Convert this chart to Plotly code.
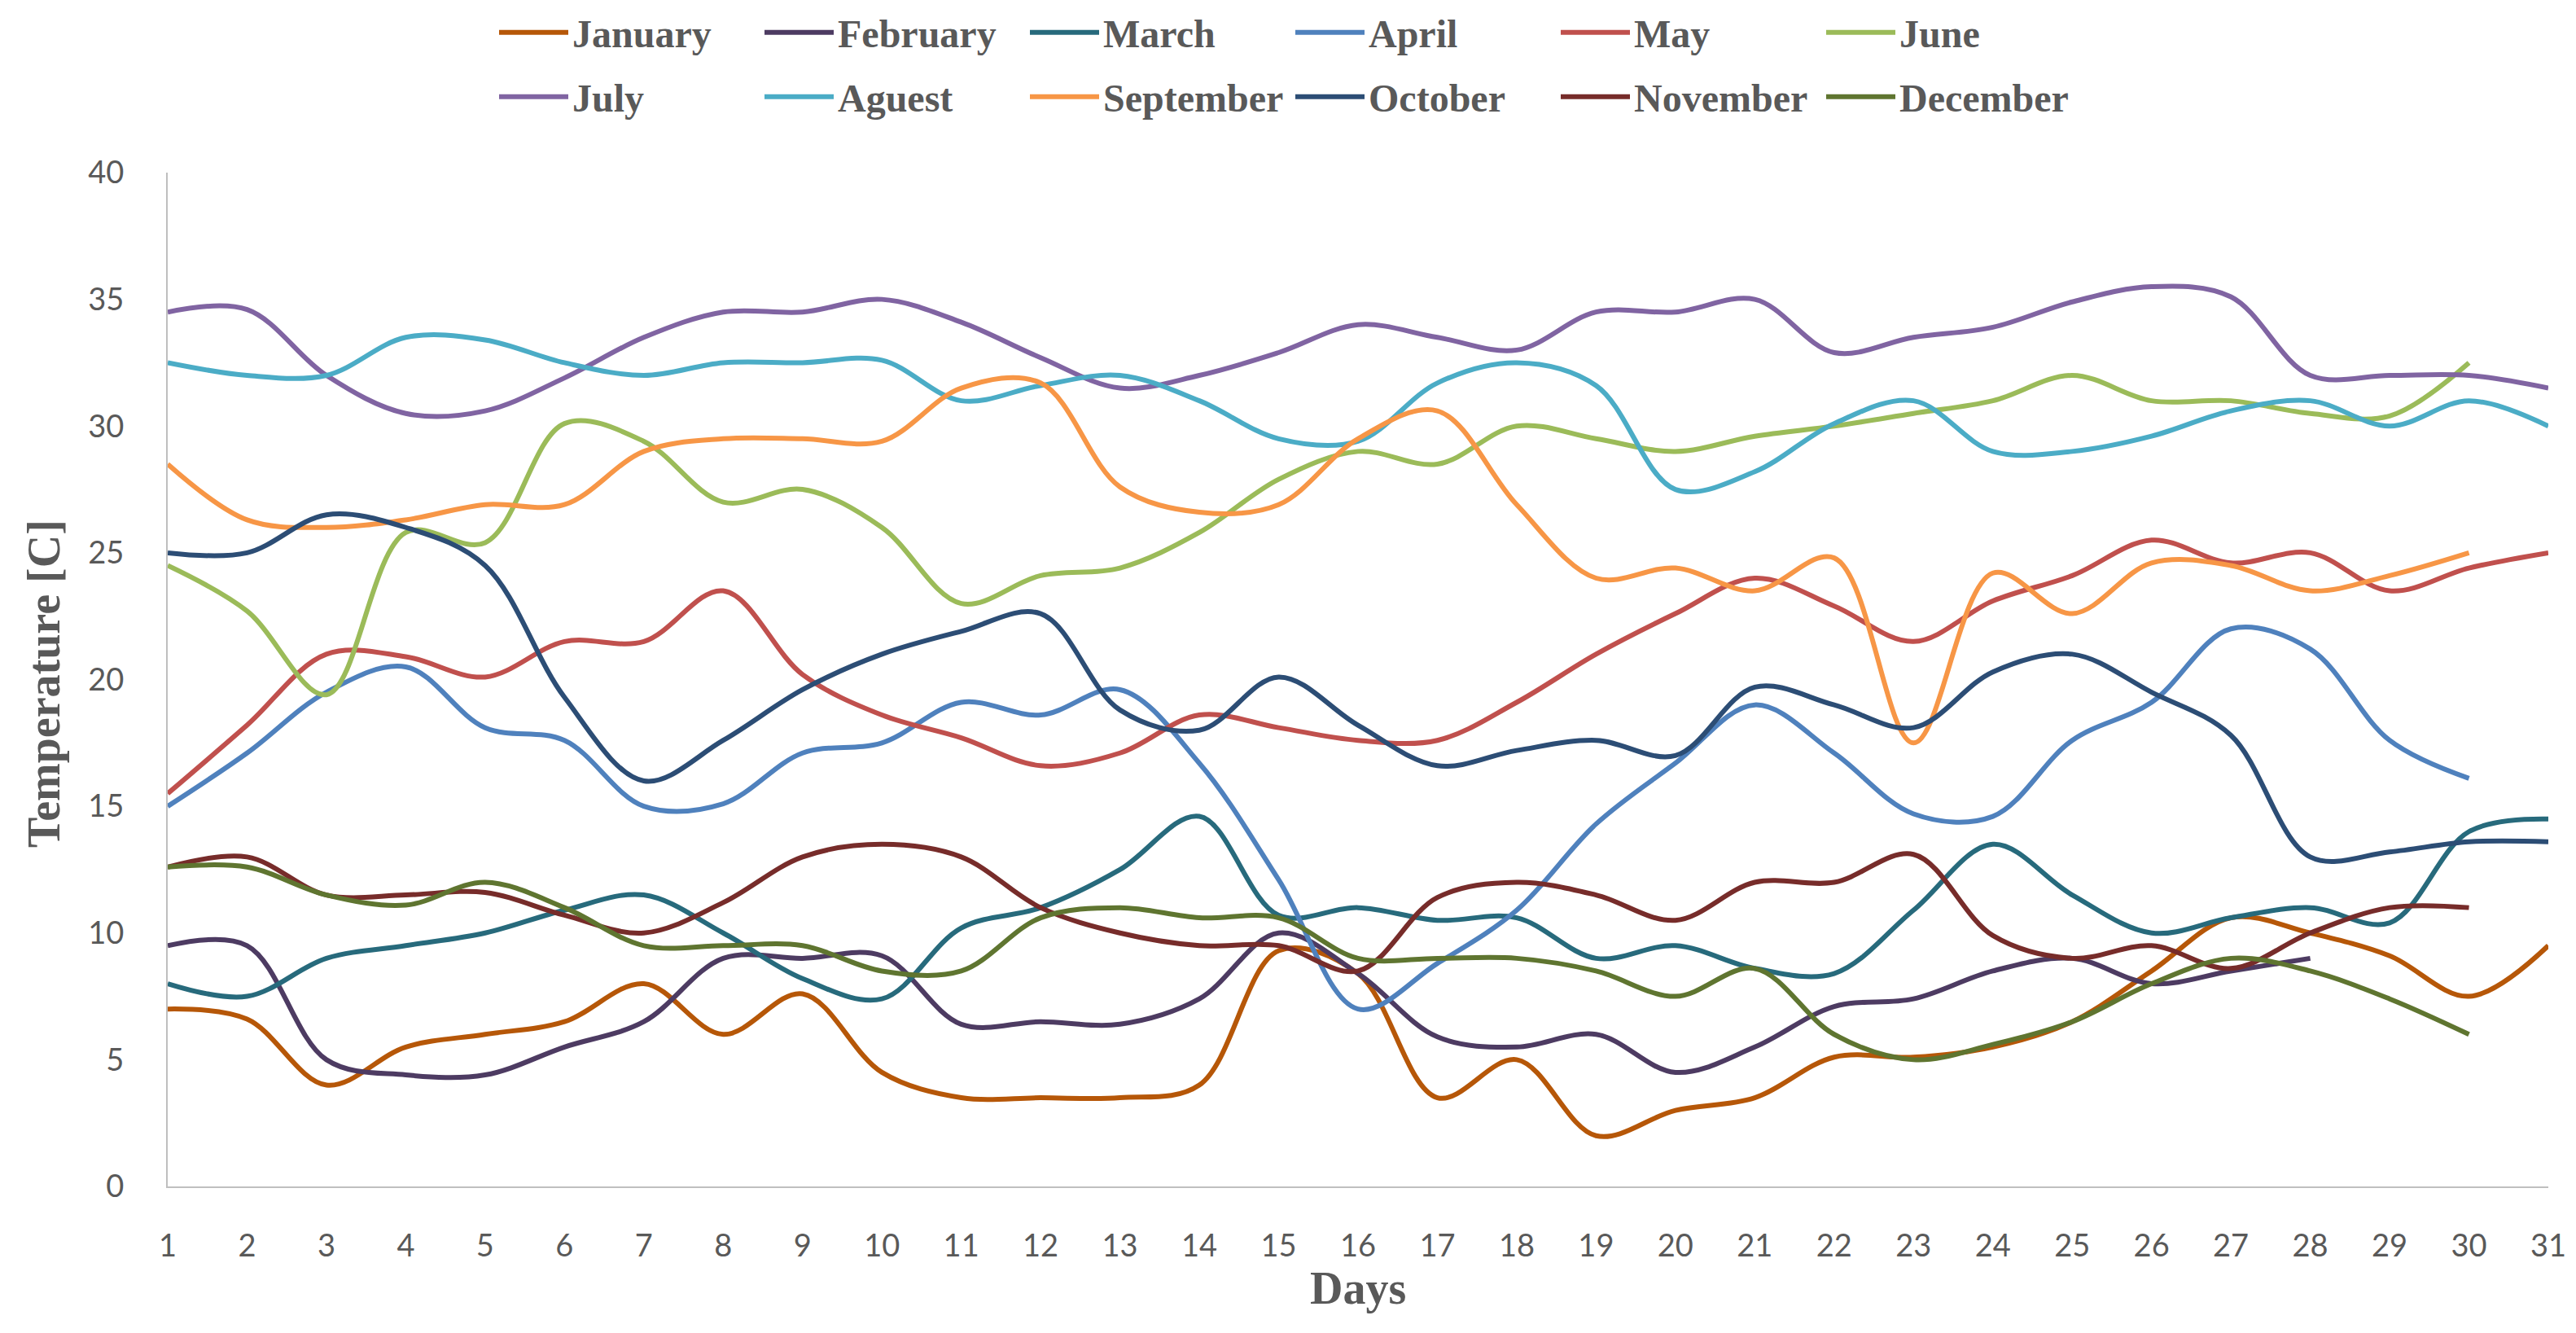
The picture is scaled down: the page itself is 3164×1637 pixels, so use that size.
import plotly.graph_objects as go

days = list(range(1, 32))

month_names = ["January", "February", "March", "April", "May", "June",
               "July", "Aguest", "September", "October", "November", "December"]

jan = [7.0, 6.6, 4.0, 5.5, 6.0, 6.5, 8.0, 6.0, 7.6, 4.5, 3.5, 3.5, 3.5, 4.0, 9.3, 8.4, 3.5, 5.0, 2.0, 3.0, 3.5, 5.1, 5.1, 5.5, 6.5, 8.5, 10.6, 10.0, 9.1, 7.5, 9.5]
feb = [9.5, 9.5, 5.0, 4.4, 4.4, 5.5, 6.5, 9.0, 9.0, 9.1, 6.4, 6.5, 6.4, 7.4, 10.0, 8.4, 5.9, 5.5, 6.0, 4.5, 5.5, 7.1, 7.4, 8.5, 9.0, 8.0, 8.5, 9.0]
mar = [8.0, 7.5, 9.0, 9.5, 10.0, 10.9, 11.5, 10.0, 8.2, 7.4, 10.2, 11.0, 12.5, 14.6, 10.7, 11.0, 10.5, 10.6, 9.0, 9.5, 8.6, 8.4, 10.9, 13.5, 11.5, 10.0, 10.6, 11.0, 10.4, 14.0, 14.5]
apr = [15.0, 17.1, 19.5, 20.5, 18.1, 17.6, 15.0, 15.1, 17.1, 17.5, 19.1, 18.6, 19.6, 16.7, 12.1, 7.0, 8.8, 10.9, 14.3, 16.7, 19.0, 17.1, 14.7, 14.6, 17.6, 19.1, 22.0, 21.2, 17.6, 16.1]
may = [15.5, 18.2, 21.0, 20.9, 20.1, 21.5, 21.5, 23.5, 20.2, 18.6, 17.7, 16.6, 17.1, 18.6, 18.1, 17.6, 17.6, 19.1, 21.0, 22.6, 24.0, 22.9, 21.5, 23.1, 24.1, 25.5, 24.6, 25.0, 23.5, 24.4, 25.0]
jun = [24.5, 22.7, 19.4, 25.8, 25.4, 30.1, 29.4, 27.0, 27.5, 26.0, 23.0, 24.1, 24.4, 25.8, 27.9, 29.0, 28.5, 30.0, 29.5, 29.0, 29.6, 30.0, 30.5, 31.0, 32.0, 31.0, 31.0, 30.5, 30.4, 32.5]
jul = [34.5, 34.6, 32.0, 30.5, 30.6, 31.9, 33.5, 34.5, 34.5, 35.0, 34.1, 32.7, 31.5, 32.0, 32.9, 34.0, 33.5, 33.0, 34.5, 34.5, 35.0, 32.9, 33.5, 33.9, 34.9, 35.5, 35.1, 32.0, 32.0, 32.0, 31.5]
aug = [32.5, 32.0, 32.0, 33.5, 33.4, 32.5, 32.0, 32.5, 32.5, 32.6, 31.0, 31.6, 32.0, 31.0, 29.5, 29.4, 31.7, 32.5, 31.6, 27.5, 28.2, 30.1, 31.0, 29.0, 29.0, 29.6, 30.6, 31.0, 30.0, 31.0, 30.0]
sep = [28.5, 26.3, 26.0, 26.3, 26.9, 26.9, 29.0, 29.5, 29.5, 29.4, 31.5, 31.7, 27.6, 26.6, 26.9, 29.5, 30.6, 26.9, 24.0, 24.4, 23.5, 24.8, 17.5, 24.2, 22.6, 24.6, 24.5, 23.5, 24.1, 25.0]
octo = [25.0, 25.0, 26.5, 26.0, 24.5, 19.3, 16.0, 17.6, 19.6, 21.0, 21.9, 22.6, 18.8, 18.0, 20.1, 18.2, 16.6, 17.2, 17.6, 17.0, 19.7, 19.0, 18.1, 20.3, 21.0, 19.5, 17.8, 13.0, 13.2, 13.6, 13.6]
nov = [12.6, 13.0, 11.5, 11.5, 11.6, 10.7, 10.0, 11.2, 13.0, 13.5, 13.0, 11.0, 10.0, 9.5, 9.5, 8.5, 11.4, 12.0, 11.5, 10.5, 12.0, 12.0, 13.1, 9.9, 9.0, 9.5, 8.6, 10.0, 11.0, 11.0]
dec = [12.6, 12.6, 11.5, 11.1, 12.0, 11.0, 9.5, 9.5, 9.5, 8.5, 8.5, 10.6, 11.0, 10.6, 10.6, 9.0, 9.0, 9.0, 8.5, 7.5, 8.6, 6.0, 5.0, 5.6, 6.5, 8.0, 9.0, 8.5, 7.4, 6.0]

series = [jan, feb, mar, apr, may, jun, jul, aug, sep, octo, nov, dec]
colors = ["#B65708", "#4D3B62", "#276A7C", "#4F81BD", "#C0504D", "#9BBB59",
          "#8064A2", "#4BACC6", "#F79646", "#2C4D75", "#772C2A", "#5F7530"]

y_ticks = [0, 5, 10, 15, 20, 25, 30, 35, 40]

TXT = "#595959"

fig = go.Figure()
for i, (name, vals, col) in enumerate(zip(month_names, series, colors)):
    fig.add_trace(go.Scatter(
        x=days[:len(vals)], y=vals, name=name, mode="lines",
        line=dict(color=col, width=6, shape="spline", smoothing=1.0),
        legend="legend" if i < 6 else "legend2",
    ))

W, H = 3164, 1637
L, R, T, B = 198, 42, 204, 188
plot_w = W - L - R
plot_h = H - T - B

def px_to_paper_y(py):
    return (H - B - py) / plot_h

def px_to_paper_x(px):
    return (px - L) / plot_w

legend_common = dict(
    orientation="h",
    xanchor="left", yanchor="middle",
    font=dict(family="Liberation Serif", size=48, color=TXT, weight="bold"),
    entrywidth=226, entrywidthmode="pixels",
    itemwidth=85,
    bgcolor="rgba(0,0,0,0)", borderwidth=0,
    tracegroupgap=0,
)

fig.update_layout(
    width=W, height=H,
    margin=dict(l=L, r=R, t=T, b=B, autoexpand=False),
    plot_bgcolor="white", paper_bgcolor="white",
    showlegend=True,
    legend=dict(x=px_to_paper_x(600), y=px_to_paper_y(32), **legend_common),
    legend2=dict(x=px_to_paper_x(600), y=px_to_paper_y(111), **legend_common),
    xaxis=dict(
        range=[1, 31], tickmode="array", tickvals=days,
        ticktext=[str(d) for d in days],
        showgrid=False, zeroline=False,
        showline=True, linecolor="#BFBFBF", linewidth=2,
        ticks="", ticklabelstandoff=38,
        tickfont=dict(family="Lato", size=38, color=TXT),
    ),
    yaxis=dict(
        range=[0, 40], tickmode="array", tickvals=y_ticks,
        ticktext=[str(v) for v in y_ticks],
        showgrid=False, zeroline=False,
        showline=True, linecolor="#BFBFBF", linewidth=2,
        ticks="", ticklabelstandoff=44,
        tickfont=dict(family="Lato", size=38, color=TXT),
    ),
    annotations=[
        dict(text="<b>Days</b>", xref="paper", yref="paper",
             x=0.5, y=px_to_paper_y(1574), xanchor="center", yanchor="middle",
             showarrow=False,
             font=dict(family="Liberation Serif", size=56, color=TXT)),
        dict(text="<b>Temperature [C]</b>", xref="paper", yref="paper",
             x=px_to_paper_x(46), y=px_to_paper_y(832), xanchor="center", yanchor="middle",
             textangle=-90, showarrow=False,
             font=dict(family="Liberation Serif", size=56, color=TXT)),
    ],
)

fig.write_html("out.html")
